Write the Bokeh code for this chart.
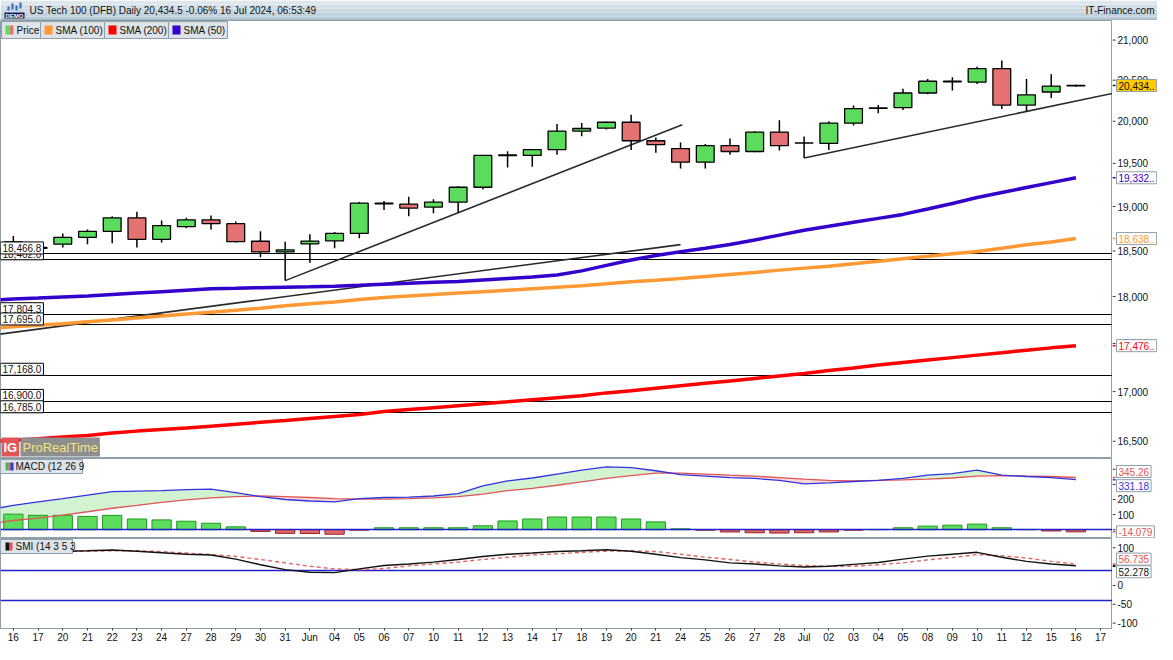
import numpy as np
from bokeh.plotting import figure
from bokeh.layouts import column, row
from bokeh.models import Range1d, Label, BoxAnnotation, ColumnDataSource
from bokeh.embed import file_html
from bokeh.resources import INLINE
from bokeh.core.properties import value

FONT = "Liberation Sans"
AXIS_COLOR = "#8f9faa"

# ---------------- data ----------------
day_labels = ["16", "17", "20", "21", "22", "23", "24", "27", "28", "29", "30", "31",
              "Jun", "04", "05", "06", "07", "10", "11", "12", "13", "14", "17", "18",
              "19", "20", "21", "24", "25", "26", "27", "28", "Jul", "02", "03", "04",
              "05", "08", "09", "10", "11", "12", "15", "16", "17"]

open_ = [18600, 18530, 18576, 18652, 18718, 18872, 18630, 18773, 18850, 18806, 18608, 18489,
         18580, 18612, 18696, 19030, 19028, 18994, 19050, 19222, 19590, 19594, 19663, 19883,
         19918, 19988, 19767, 19674, 19514, 19709, 19640, 19871, 19739, 19736, 19977, 20155,
         20165, 20343, 20480, 20475, 20643, 20196, 20355, 20430]
high = [18666, 18600, 18696, 18740, 18890, 18942, 18842, 18872, 18898, 18831, 18721, 18604,
        18687, 18713, 19053, 19065, 19113, 19084, 19233, 19600, 19643, 19670, 19968, 19980,
        19995, 20078, 19805, 19747, 19728, 19794, 19880, 20012, 19817, 20000, 20189, 20196,
        20394, 20514, 20535, 20667, 20744, 20514, 20574, 20445]
low = [18480, 18480, 18539, 18576, 18587, 18539, 18593, 18754, 18740, 18593, 18430, 18173,
       18370, 18530, 18641, 18961, 18890, 18923, 18934, 19196, 19452, 19460, 19601, 19820,
       19902, 19658, 19624, 19440, 19440, 19601, 19630, 19651, 19563, 19658, 19948, 20098,
       20136, 20326, 20374, 20454, 20148, 20118, 20283, 20420]
close = [18530, 18540, 18652, 18718, 18872, 18630, 18784, 18850, 18806, 18604, 18489, 18511,
         18610, 18696, 19039, 19038, 18983, 19050, 19222, 19594, 19600, 19663, 19883, 19913,
         19988, 19767, 19721, 19514, 19709, 19640, 19871, 19709, 19741, 19977, 20153, 20160,
         20343, 20487, 20487, 20643, 20196, 20319, 20427, 20434.5]

# indicator series start one session earlier (15 May)
sma50 = [17958, 17974, 17984, 17995, 18005, 18021, 18037, 18053, 18069, 18085, 18090, 18096,
         18101, 18106, 18112, 18122, 18133, 18143, 18154, 18164, 18180, 18196, 18212, 18235,
         18280, 18340, 18400, 18450, 18492, 18530, 18573, 18622, 18677, 18732, 18776, 18821,
         18866, 18911, 18973, 19036, 19104, 19162, 19219, 19276, 19332]
sma100 = [17658, 17676, 17691, 17707, 17728, 17748, 17769, 17790, 17811, 17832, 17853, 17874,
          17900, 17921, 17942, 17969, 17990, 18006, 18021, 18037, 18053, 18069, 18085, 18101,
          18117, 18138, 18160, 18176, 18196, 18218, 18240, 18261, 18288, 18310, 18331, 18359,
          18386, 18413, 18440, 18468, 18495, 18530, 18568, 18600, 18638]
sma200 = [16497, 16509, 16524, 16543, 16557, 16582, 16601, 16616, 16631, 16650, 16669, 16689,
          16708, 16728, 16748, 16767, 16797, 16817, 16837, 16857, 16876, 16896, 16917, 16937,
          16957, 16987, 17010, 17035, 17060, 17085, 17110, 17135, 17160, 17185, 17216, 17242,
          17273, 17299, 17325, 17351, 17377, 17402, 17428, 17453, 17476]

levels = [18402.0, 18466.8, 17804.3, 17695.0, 17168.0, 16900.0, 16785.0]
level_labels = ["18,402.0", "18,466.8", "17,804.3", "17,695.0", "17,168.0", "16,900.0", "16,785.0"]

trend_x0 = [-0.6, 11, 32]
trend_y0 = [17596, 18173, 19563]
trend_x1 = [27, 27.07, 44.48]
trend_y1 = [18571, 19957, 20338]

macd = [132, 161, 184, 206, 229, 252, 255, 258, 265, 268, 245, 219, 200, 190, 184, 206, 213,
        216, 223, 239, 290, 323, 342, 368, 394, 416, 410, 390, 365, 355, 345, 339, 326, 303,
        310, 319, 326, 339, 361, 371, 394, 361, 352, 345, 331.18]
macd_signal = [39, 61, 77, 97, 119, 142, 161, 181, 197, 210, 219, 223, 219, 213, 206, 203, 203,
               206, 210, 219, 235, 258, 274, 294, 316, 339, 358, 374, 374, 368, 361, 355, 345,
               335, 326, 323, 326, 329, 335, 342, 355, 358, 355, 352, 345.26]
macd_hist = [103, 95, 95, 88, 95, 71, 65, 56, 43, 19, -11, -24, -25, -30, -3, 13, 13, 13, 13,
             26, 58, 71, 84, 84, 84, 71, 52, 6, -3, -15, -20, -22, -20, -15, -3, 2, 13, 24, 30,
             37, 13, 2, -8, -14.079]

smi = [88, 90, 91, 91, 92, 94, 91, 87, 83, 81, 70, 55, 42, 35, 34, 44, 53, 57, 62, 69, 77, 83,
       86, 90, 92, 95, 91, 83, 74, 68, 60, 57, 52, 49, 51, 56, 61, 70, 78, 83, 88, 75, 64, 57,
       52.278]
smi_signal = [87, 88, 90, 90, 91, 92, 92, 90, 86, 82, 77, 69, 60, 51, 44, 42, 45, 52, 57, 62,
              69, 75, 81, 84, 88, 91, 92, 90, 83, 75, 69, 62, 57, 53, 51, 51, 55, 60, 68, 74,
              82, 79, 73, 64, 56.735]

price_ticks = [16500, 17000, 17500, 18000, 18500, 19000, 19500, 20000, 20500, 21000]
price_tick_labels = ["16,500", "17,000", "17,500", "18,000", "18,500", "19,000", "19,500",
                     "20,000", "20,500", "21,000"]
macd_ticks = [0, 100, 200, 300, 400]
macd_tick_labels = ["0", "100", "200", "300", "400"]
smi_ticks = [-100, -50, 0, 50, 100]
smi_tick_labels = ["-100", "-50", "0", "50", "100"]

# ---------------- layout ----------------
FW = 1112
RB = 45
N = len(open_)
xi = np.arange(N)
xs = np.arange(-1, N)
xr = Range1d(-0.52, 44.48)


def make_fig(fh, yr, ytype="linear", bottom=0):
    p = figure(frame_width=FW, frame_height=fh, x_range=xr, y_range=yr, y_axis_type=ytype,
               y_axis_location=None, x_axis_location=("below" if bottom else None),
               toolbar_location=None, output_backend="svg",
               min_border_left=0, min_border_right=0, min_border_top=0,
               min_border_bottom=bottom)
    p.xgrid.visible = False
    p.ygrid.visible = False
    p.outline_line_color = AXIS_COLOR
    p.border_fill_color = "white"
    p.background_fill_color = "white"
    return p


def side_fig(fh, yr, ticks, tick_text, tags, ytype="linear", bottom=0):
    """Right-hand price scale: shares the panel's y range, carries ticks, labels and value tags."""
    s = figure(frame_width=RB, frame_height=fh, x_range=Range1d(0, RB), y_range=yr,
               y_axis_type=ytype, x_axis_location=None, y_axis_location=None,
               toolbar_location=None, output_backend="svg",
               min_border_left=0, min_border_right=0, min_border_top=0,
               min_border_bottom=bottom)
    s.xgrid.visible = False
    s.ygrid.visible = False
    s.outline_line_color = None
    s.border_fill_color = "white"
    s.background_fill_color = "white"
    s.segment(x0=0, y0=ticks, x1=3, y1=ticks, line_color="#333333", line_width=1)
    s.text(x=5, y=ticks, text=tick_text, text_font=value(FONT), text_font_size="10px",
           text_color="#111111", text_baseline="middle", text_align="left")
    for (txt, yv, col, bg, dy) in tags:
        s.segment(x0=0, y0=yv, x1=3, y1=yv, line_color=col, line_width=1.5)
        kw = dict(x=[4], y=[yv], text=[txt], y_offset=dy, text_font=value(FONT),
                  text_font_size="10px", text_color=col, text_baseline="middle",
                  text_align="left", background_fill_color=bg,
                  border_line_color=AXIS_COLOR)
        try:
            s.text(padding=2, **kw)
        except Exception:
            s.text(**kw)
    return s


def box(p, l, r, t, b, color, line=None):
    p.add_layout(BoxAnnotation(left=l, right=r, top=t, bottom=b, left_units="screen",
                               right_units="screen", top_units="screen", bottom_units="screen",
                               fill_color=color, fill_alpha=1.0,
                               line_color=line, line_alpha=1.0, line_width=1))


def text_label(p, x, y, text, size="10px", color="#111111", style="normal"):
    p.add_layout(Label(x=x, y=y, x_units="screen", y_units="screen", text=text,
                       anchor="center_left", text_font=FONT, text_font_size=size,
                       text_color=color, text_font_style=style))


# ---- title bar ----
TW = FW + RB
pt = figure(frame_width=TW, frame_height=20, x_range=(0, TW), y_range=(0, 20),
            toolbar_location=None, output_backend="svg", x_axis_location=None,
            y_axis_location=None, min_border=0)
pt.outline_line_color = None
pt.xgrid.visible = False
pt.ygrid.visible = False
bands = ["#b9cbd6", "#c2d2dc", "#cbd9e2", "#d4e0e8", "#dde7ed"]
for k, c in enumerate(bands):
    pt.quad(left=0, right=TW, bottom=k * 4, top=k * 4 + 4, fill_color=c, line_color=None)
pt.segment(x0=0, y0=0.5, x1=TW, y1=0.5, line_color=AXIS_COLOR, line_width=1)
pt.quad(left=4, right=24, bottom=2, top=8, fill_color="#0b1a55", line_color=None)
pt.text(x=14, y=5, text=["DEMO"], text_font=value(FONT), text_font_size="6px",
        text_color="white", text_align="center", text_baseline="middle",
        text_font_style="bold")
pt.vbar(x=[8, 12, 16, 20], bottom=[10, 11, 10, 12], top=[14, 17, 15, 18], width=2.2,
        fill_color="#3a6fc4", line_color=None)
pt.text(x=29, y=10, text=["US Tech 100 (DFB) Daily 20,434.5 -0.06% 16 Jul 2024, 06:53:49"],
        text_font=value(FONT), text_font_size="10px", text_color="#111111",
        text_baseline="middle")
pt.text(x=TW - 3, y=10, text=["IT-Finance.com"], text_font=value(FONT),
        text_font_size="10px", text_color="#111111", text_baseline="middle",
        text_align="right")

# ---- main price panel ----
MH = 438
price_range = Range1d(16330, 21249)
p = make_fig(MH, price_range, ytype="log")

p.hspan(y=levels, line_color="black", line_width=1)
p.segment(x0=trend_x0, y0=trend_y0, x1=trend_x1, y1=trend_y1, line_color="#2a2a2a",
          line_width=1.6)
p.line(xs, sma200, line_color="#ff0000", line_width=3.5)
p.line(xs, sma100, line_color="#ff9933", line_width=3.5)
p.line(xs, sma50, line_color="#3300cc", line_width=3.5)

up = [c >= o for o, c in zip(open_, close)]
csrc = ColumnDataSource(dict(
    x=xi, top=np.maximum(open_, close), bottom=np.minimum(open_, close),
    high=high, low=low, color=["#5cdc5c" if u else "#e47272" for u in up]))
p.segment(x0="x", y0="low", x1="x", y1="high", source=csrc, line_color="black",
          line_width=1.5)
p.vbar(x="x", width=0.72, top="top", bottom="bottom", fill_color="color",
       line_color="black", line_width=1.3, source=csrc)

for lv, lt in zip(levels, level_labels):
    p.add_layout(Label(x=0, x_units="screen", y=lv, y_units="data", text=lt,
                       anchor="bottom_left", text_font=FONT, text_font_size="10px",
                       text_color="#111111", background_fill_color="white",
                       border_line_color="black", padding=2))

# legend row
LT = MH - 1
for (l, r, name, cols) in [(1, 40, "Price", ["#5cdc5c", "#e47272"]),
                           (40, 104, "SMA (100)", ["#ff9933"]),
                           (104, 168, "SMA (200)", ["#ff0000"]),
                           (168, 227, "SMA (50)", ["#3300cc"])]:
    box(p, l, r, LT, LT - 17, "#dde3e8", AXIS_COLOR)
    if len(cols) == 2:
        box(p, l + 4, l + 8, LT - 4, LT - 13, cols[0])
        box(p, l + 8, l + 12, LT - 4, LT - 13, cols[1])
    else:
        box(p, l + 4, l + 12, LT - 4, LT - 13, cols[0])
    text_label(p, l + 15, LT - 8.5, name, size="10px")

# ProRealTime logo
p.add_layout(Label(x=1, y=2, x_units="screen", y_units="screen", text="IG",
                   anchor="bottom_left", text_font=FONT, text_font_size="13px",
                   text_font_style="bold", text_color="white",
                   background_fill_color="#e05555", padding=2))
p.add_layout(Label(x=20, y=2, x_units="screen", y_units="screen", text="ProRealTime",
                   anchor="bottom_left", text_font=FONT, text_font_size="13px",
                   text_color="#f4e37c", background_fill_color="#8e8e8e", padding=2))

p_side = side_fig(MH, price_range, price_ticks, price_tick_labels, [
    ("17,476..", sma200[-1], "#ff0000", "white", 0),
    ("18,638..", sma100[-1], "#ff9933", "white", 0),
    ("19,332..", sma50[-1], "#3300cc", "white", 0),
    ("20,434..", close[-1], "#111111", "#ffcc00", 0),
], ytype="log")

# ---- MACD panel ----
macd_range = Range1d(-58, 471)
pm = make_fig(80, macd_range)
mhi = np.maximum(macd, macd_signal)
pm.varea(x=xs, y1=macd_signal, y2=mhi, fill_color="#d2f2d2")
pm.varea(x=xs, y1=macd, y2=mhi, fill_color="#f6d8d8")
hist_up = [h >= 0 for h in macd_hist]
pm.vbar(x=xi, top=macd_hist, bottom=0, width=0.78,
        fill_color=["#5ddd5d" if u else "#e06a6a" for u in hist_up],
        line_color=["#1f9a1f" if u else "#a02020" for u in hist_up], line_width=1)
pm.hspan(y=[0], line_color="#2222cc", line_width=1.3)
pm.line(xs, macd_signal, line_color="#e05555", line_width=1.3)
pm.line(xs, macd, line_color="#3333dd", line_width=1.3)
box(pm, 0, 82, 79, 65, "#dde3e8", AXIS_COLOR)
box(pm, 5, 8, 76, 68, "#44bb44")
box(pm, 8, 10, 76, 68, "#e05555")
box(pm, 10, 13, 76, 68, "#3333dd")
text_label(pm, 15, 72, "MACD (12 26 9")
pm_side = side_fig(80, macd_range, macd_ticks, macd_tick_labels, [
    ("345.26", macd_signal[-1], "#e05555", "white", -6),
    ("331.18", macd[-1], "#3333dd", "white", 6),
    ("-14.079", macd_hist[-1], "#e05555", "white", 0),
])

# ---- SMI panel ----
smi_range = Range1d(-114.3, 124.7)
ps = make_fig(90, smi_range, bottom=16)
ps.hspan(y=[40, -40], line_color="#2222cc", line_width=1.3)
ps.line(xs, smi_signal, line_color="#e06666", line_width=1.4, line_dash="4 3")
ps.line(xs, smi, line_color="#111111", line_width=1.4)
box(ps, 0, 72, 89, 75, "#dde3e8", AXIS_COLOR)
box(ps, 5, 9, 86, 78, "#111111")
box(ps, 9, 12, 86, 78, "#e05555")
text_label(ps, 15, 82, "SMI (14 3 5 3")
ps_side = side_fig(90, smi_range, smi_ticks, smi_tick_labels, [
    ("56.735", smi_signal[-1], "#e05555", "white", -5),
    ("52.278", smi[-1], "#111111", "white", 6),
], bottom=16)

from bokeh.models import FixedTicker
xa = ps.xaxis[0]
xa.ticker = FixedTicker(ticks=list(range(len(day_labels))))
xa.major_label_overrides = {i: lbl for i, lbl in enumerate(day_labels)}
xa.major_label_text_font = FONT
xa.major_label_text_font_size = "10px"
xa.major_label_text_color = "#111111"
xa.axis_line_color = AXIS_COLOR
xa.major_tick_line_color = "#333333"
xa.major_tick_out = 2
xa.major_tick_in = 0
xa.minor_tick_line_color = None
xa.major_label_standoff = 1

layout = column(pt, row(p, p_side, spacing=0), row(pm, pm_side, spacing=0),
                row(ps, ps_side, spacing=0), spacing=0)
open("out.html", "w").write(file_html(layout, INLINE))
